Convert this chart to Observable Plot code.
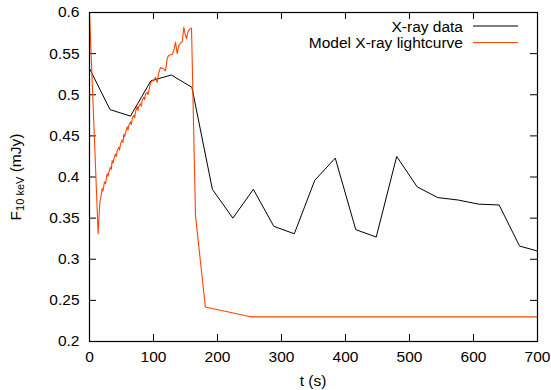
<!DOCTYPE html>
<html><head><meta charset="utf-8">
<script src="https://cdn.jsdelivr.net/npm/d3@7"></script>
<script src="https://cdn.jsdelivr.net/npm/@observablehq/plot@0.6"></script>
<style>
html,body{margin:0;padding:0;background:#fff;overflow:hidden}
svg{font-family:"Liberation Sans",Arial,sans-serif}
</style>
</head><body><div id="chart"></div>
<script>
// X-ray data (black)
const dataT = [0,32,64,96,128,160,192,224,256,288,320,352,384,416,448,480,512,544,576,608,640,672,700];
const dataF = [0.532,0.482,0.474,0.517,0.524,0.509,0.385,0.350,0.385,0.340,0.331,0.396,0.423,0.336,0.327,0.425,0.388,0.375,0.372,0.367,0.366,0.316,0.310];
// Model X-ray lightcurve (orange)
const modelT = [0,13.5,16.1,17.5,19.8,21.0,23.4,25.0,27.6,29.0,30.2,32.8,34.0,35.4,37.0,38.0,40.6,42.0,43.2,45.8,47.0,48.4,51.0,52.3,53.6,55.0,56.3,58.9,60.2,61.5,64.1,65.4,66.7,69.3,70.6,71.9,74.5,75.8,77.1,79.7,81.0,82.3,84.9,86.2,87.5,90.1,91.4,92.7,95.3,97.9,100.5,103.1,105.7,108.3,110.9,115.1,118.8,121.4,124.0,129.2,131.8,134.4,137.0,139.6,142.2,144.8,147.4,150.0,151.6,153.6,156.8,159.4,165.6,181,251.6,700];
const modelF = [0.600,0.331,0.369,0.374,0.386,0.383,0.394,0.392,0.404,0.401,0.406,0.412,0.409,0.420,0.417,0.422,0.428,0.425,0.432,0.436,0.433,0.440,0.445,0.442,0.452,0.449,0.454,0.461,0.457,0.463,0.467,0.464,0.471,0.475,0.472,0.479,0.486,0.481,0.486,0.489,0.486,0.493,0.497,0.494,0.501,0.503,0.500,0.505,0.514,0.517,0.517,0.521,0.515,0.527,0.533,0.532,0.529,0.544,0.548,0.549,0.554,0.564,0.550,0.560,0.563,0.564,0.582,0.572,0.568,0.576,0.580,0.581,0.353,0.242,0.230,0.230];
// Axis ticks
const xTicks = [0,100,200,300,400,500,600,700];
const yTicks = [0.2,0.25,0.3,0.35,0.4,0.45,0.5,0.55,0.6];
const seriesNames = ["X-ray data","Model X-ray lightcurve"];
const seriesColors = ["#000000","#ff4500"];

const dataRows = dataT.map((t,i)=>({t, f:dataF[i]}));
const modelRows = modelT.map((t,i)=>({t, f:modelF[i]}));

const W=551,H=390,ML=89,MR=14,MT=12,MB=49;
const PW=W-ML-MR, PH=H-MT-MB, TL=7;

const chart = Plot.plot({
  width:W, height:H,
  marginLeft:ML, marginRight:MR, marginTop:MT, marginBottom:MB,
  style:{fontSize:"15.5px", fontFamily:"'Liberation Sans',Arial,sans-serif", background:"#fff", color:"#000"},
  x:{domain:[0,700]},
  y:{domain:[0.2,0.6]},
  marks:[
    Plot.axisX({ticks:xTicks, tickSize:0, tickPadding:9, tickFormat:d=>String(d), label:null}),
    Plot.axisY({ticks:yTicks, tickSize:0, tickPadding:10, tickFormat:d=>String(d), label:null}),
    Plot.tickY(yTicks, {y:d=>d, insetRight:PW-TL, stroke:"black"}),
    Plot.tickY(yTicks, {y:d=>d, insetLeft:PW-TL, stroke:"black"}),
    Plot.tickX(xTicks, {x:d=>d, insetTop:PH-TL, stroke:"black"}),
    Plot.tickX(xTicks, {x:d=>d, insetBottom:PH-TL, stroke:"black"}),
    Plot.line(dataRows, {x:"t", y:"f", stroke:seriesColors[0], strokeWidth:1, clip:true}),
    Plot.line(modelRows, {x:"t", y:"f", stroke:seriesColors[1], strokeWidth:1.1, clip:true}),
    Plot.frame({stroke:"black", strokeWidth:1.2})
  ]
});
document.getElementById("chart").appendChild(chart);

const svg = d3.select(chart);
// y-axis label with subscript
const yl = svg.append("text")
  .attr("transform","translate(21,177) rotate(-90)")
  .attr("text-anchor","middle")
  .style("font-size","15.5px").attr("fill","black");
yl.append("tspan").text("F");
yl.append("tspan").attr("dy",3).style("font-size","11px").text("10 keV");
yl.append("tspan").attr("dy",-3).text(" (mJy)");
// x-axis label
svg.append("text").attr("x", ML+PW/2).attr("y",386)
  .attr("text-anchor","middle").style("font-size","15.5px").attr("fill","black").text("t (s)");
// legend
seriesNames.forEach((name,i)=>{
  const cy = 26 + i*16.5;
  svg.append("text").attr("x",463).attr("y",cy+5.5).attr("text-anchor","end")
    .style("font-size","15.5px").attr("fill","black").text(name);
  svg.append("line").attr("x1",473).attr("x2",518).attr("y1",cy).attr("y2",cy)
    .attr("stroke",seriesColors[i]).attr("stroke-width",1.2);
});
</script>
</body></html>
